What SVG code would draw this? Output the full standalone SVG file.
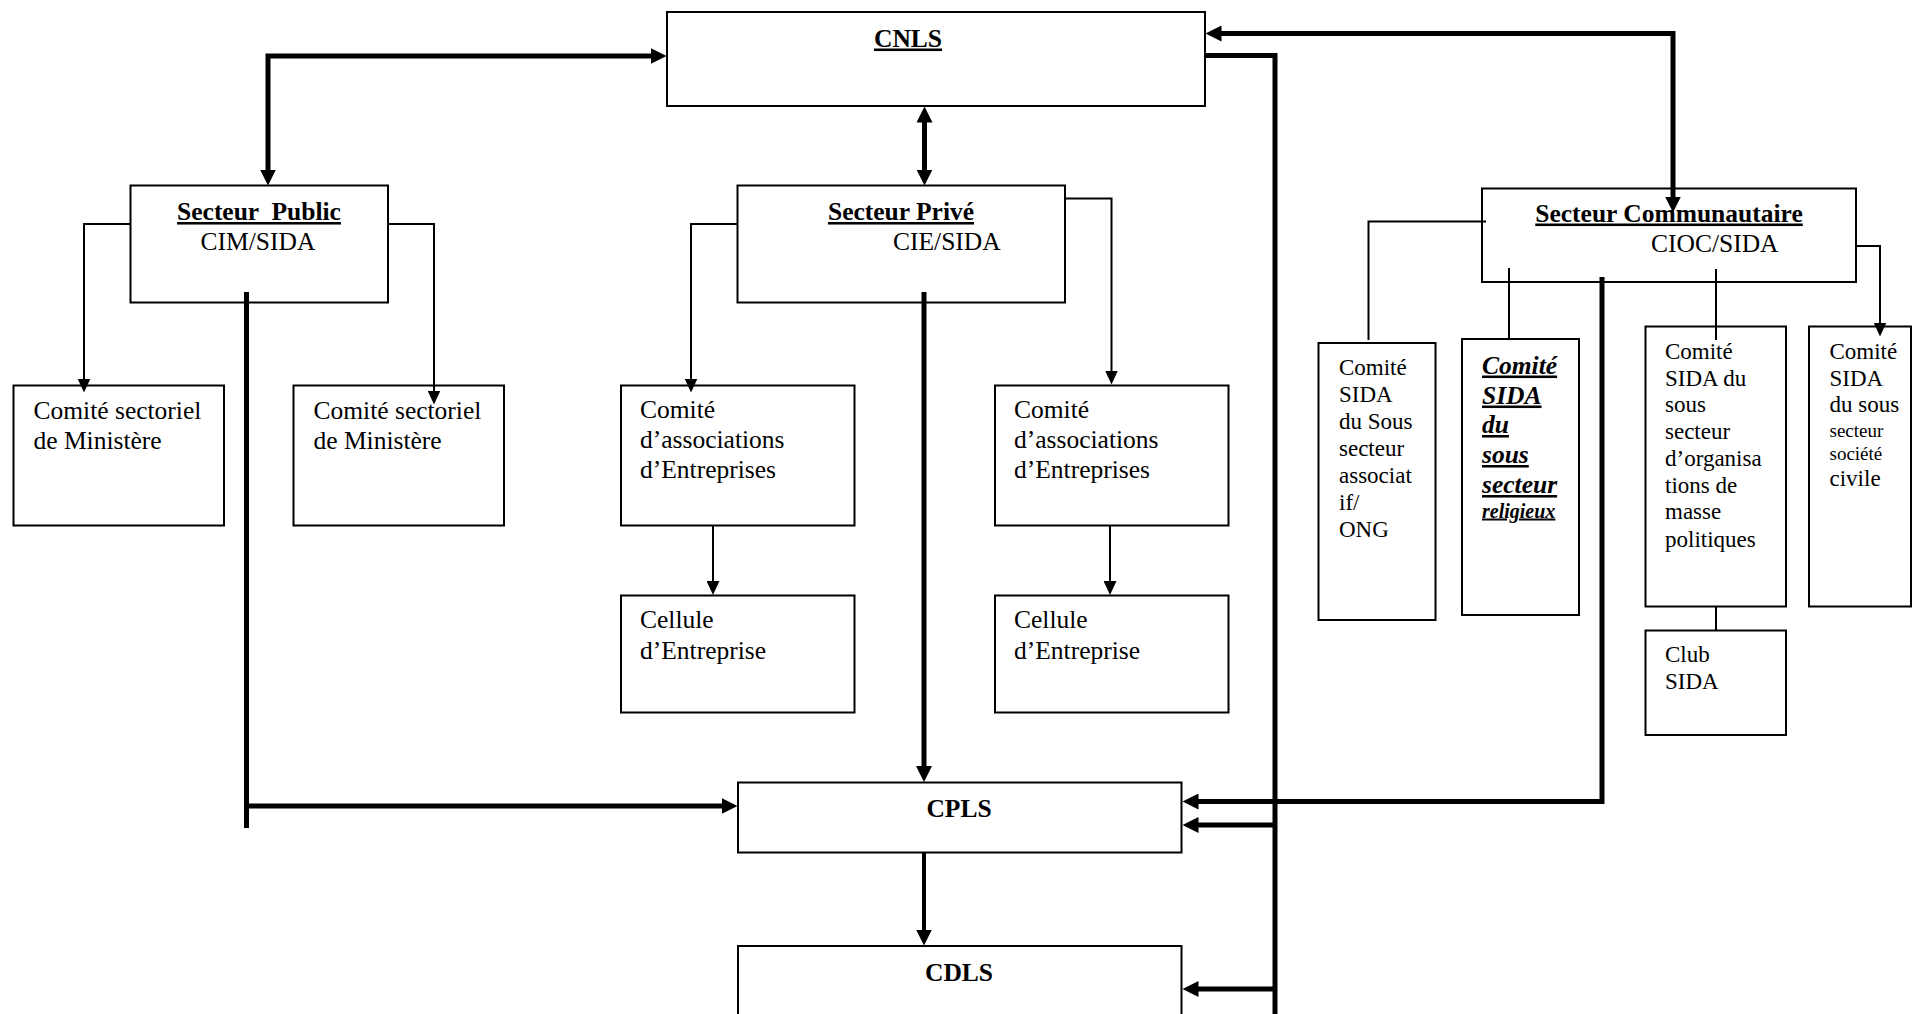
<svg xmlns="http://www.w3.org/2000/svg" width="1913" height="1014" viewBox="0 0 1913 1014">
<style>
  .box{fill:#fff;stroke:#000;stroke-width:2}
  text{font-family:"Liberation Serif","Times New Roman",serif;fill:#000}
  .t{font-size:25.5px}
  .h{font-size:25.5px;font-weight:bold}
  .u{text-decoration:underline}
  .s{font-size:23px}
  .ss{font-size:19px}
  .bi{font-size:25.5px;font-weight:bold;font-style:italic;text-decoration:underline}
  .thick{fill:none;stroke:#000;stroke-width:5;stroke-linejoin:miter}
  .med{fill:none;stroke:#000;stroke-width:4}
  .thin{fill:none;stroke:#000;stroke-width:2}
  .aT{marker-end:url(#ahT)}
  .aTs{marker-start:url(#ahT)}
  .at{marker-end:url(#aht)}
</style>
<defs>
  <marker id="ahT" markerUnits="userSpaceOnUse" viewBox="0 0 16 16" markerWidth="16" markerHeight="16" refX="0.5" refY="8" orient="auto-start-reverse">
    <path d="M0,0 L16,8 L0,16 z" fill="#000"/>
  </marker>
  <marker id="aht" markerUnits="userSpaceOnUse" viewBox="0 0 14 13" markerWidth="14" markerHeight="13" refX="0.5" refY="6.5" orient="auto-start-reverse">
    <path d="M0,0 L14,6.5 L0,13 z" fill="#000"/>
  </marker>
</defs>
<rect width="1913" height="1014" fill="#fff"/>

<g id="cnls">
  <rect class="box" x="667" y="12" width="538" height="94"/>
  <text class="h u" x="874" y="46.5">CNLS</text>
</g>
<g id="secteur-public">
  <rect class="box" x="130.5" y="185.5" width="257.5" height="117"/>
  <text class="h u" x="259" y="220" text-anchor="middle" xml:space="preserve">Secteur  Public</text>
  <text class="t" x="258" y="250" text-anchor="middle">CIM/SIDA</text>
</g>
<g id="secteur-prive">
  <rect class="box" x="737.5" y="185.5" width="327.5" height="117"/>
  <text class="h u" x="901" y="220" text-anchor="middle">Secteur Privé</text>
  <text class="t" x="893" y="250">CIE/SIDA</text>
</g>
<g id="secteur-communautaire">
  <rect class="box" x="1482" y="188.5" width="374" height="93.5"/>
  <text class="h u" x="1669" y="221.5" text-anchor="middle">Secteur Communautaire</text>
  <text class="t" x="1651" y="251.5">CIOC/SIDA</text>
</g>
<g id="comite-sectoriel-1">
  <rect class="box" x="13.5" y="385.5" width="210.5" height="140"/>
  <text class="t" x="33.5" y="419">Comité sectoriel</text>
  <text class="t" x="33.5" y="449">de Ministère</text>
</g>
<g id="comite-sectoriel-2">
  <rect class="box" x="293.5" y="385.5" width="210.5" height="140"/>
  <text class="t" x="313.5" y="419">Comité sectoriel</text>
  <text class="t" x="313.5" y="449">de Ministère</text>
</g>
<g id="comite-assoc-1">
  <rect class="box" x="621" y="385.5" width="233.5" height="140"/>
  <text class="t" x="640" y="418">Comité</text>
  <text class="t" x="640" y="448">d’associations</text>
  <text class="t" x="640" y="477.5">d’Entreprises</text>
</g>
<g id="comite-assoc-2">
  <rect class="box" x="995" y="385.5" width="233.5" height="140"/>
  <text class="t" x="1014" y="418">Comité</text>
  <text class="t" x="1014" y="448">d’associations</text>
  <text class="t" x="1014" y="477.5">d’Entreprises</text>
</g>
<g id="cellule-1">
  <rect class="box" x="621" y="595.5" width="233.5" height="117"/>
  <text class="t" x="640" y="628">Cellule</text>
  <text class="t" x="640" y="659">d’Entreprise</text>
</g>
<g id="cellule-2">
  <rect class="box" x="995" y="595.5" width="233.5" height="117"/>
  <text class="t" x="1014" y="628">Cellule</text>
  <text class="t" x="1014" y="659">d’Entreprise</text>
</g>
<g id="cpls">
  <rect class="box" x="738" y="782.5" width="443.5" height="70"/>
  <text class="h" x="959" y="817" text-anchor="middle">CPLS</text>
</g>
<g id="cdls">
  <rect class="box" x="738" y="946" width="443.5" height="80"/>
  <text class="h" x="959" y="981" text-anchor="middle">CDLS</text>
</g>
<g id="comite-associatif">
  <rect class="box" x="1318.5" y="343" width="117" height="277"/>
  <text class="s" x="1339" y="374.5">Comité</text>
  <text class="s" x="1339" y="401.5">SIDA</text>
  <text class="s" x="1339" y="428.5">du Sous</text>
  <text class="s" x="1339" y="455.5">secteur</text>
  <text class="s" x="1339" y="482.5">associat</text>
  <text class="s" x="1339" y="509.5">if/</text>
  <text class="s" x="1339" y="536.5">ONG</text>
</g>
<g id="comite-religieux">
  <rect class="box" x="1462" y="339" width="117" height="276"/>
  <text class="bi" x="1482" y="373.5">Comité</text>
  <text class="bi" x="1482" y="403.5">SIDA</text>
  <text class="bi" x="1482" y="433">du</text>
  <text class="bi" x="1482" y="463">sous</text>
  <text class="bi" x="1482" y="493">secteur</text>
  <text class="bi" x="1482" y="517.5" style="font-size:20px">religieux</text>
</g>
<g id="comite-masse">
  <rect class="box" x="1645.5" y="326.5" width="140.5" height="280"/>
  <text class="s" x="1665" y="358.5">Comité</text>
  <text class="s" x="1665" y="385.5">SIDA du</text>
  <text class="s" x="1665" y="412">sous</text>
  <text class="s" x="1665" y="439">secteur</text>
  <text class="s" x="1665" y="465.5">d’organisa</text>
  <text class="s" x="1665" y="492.5">tions de</text>
  <text class="s" x="1665" y="519">masse</text>
  <text class="s" x="1665" y="546.5">politiques</text>
</g>
<g id="comite-civile">
  <rect class="box" x="1809" y="326.5" width="102" height="280"/>
  <text class="s" x="1829.5" y="358.5">Comité</text>
  <text class="s" x="1829.5" y="385.5">SIDA</text>
  <text class="s" x="1829.5" y="412">du sous</text>
  <text class="ss" x="1829.5" y="437">secteur</text>
  <text class="ss" x="1829.5" y="460">société</text>
  <text class="s" x="1829.5" y="486">civile</text>
</g>
<g id="club-sida">
  <rect class="box" x="1645.5" y="630.5" width="140.5" height="104.5"/>
  <text class="s" x="1665" y="662">Club</text>
  <text class="s" x="1665" y="688.5">SIDA</text>
</g>

<g id="connectors">
  <!-- thick -->
  <path class="thick aT aTs" d="M651,56 H268 V170"/>
  <path class="thick aT aTs" d="M924.5,122 V170"/>
  <path class="thick aT aTs" d="M1221,33.5 H1673 V197"/>
  <path class="thick" d="M1205,55.5 H1275 V1014"/>
  <path class="thick aT" d="M1275,825 H1198"/>
  <path class="thick aT" d="M1275,989 H1198"/>
  <path class="thick aT" d="M1602,277 V801.5 H1198"/>
  <path class="thick" d="M246.5,292 V828"/>
  <path class="thick aT" d="M246.5,806 H722"/>
  <path class="thick aT" d="M924,292 V766.5"/>
  <path class="med aT" d="M924,852.5 V930"/>
  <!-- thin with arrows -->
  <path class="thin at" d="M130.5,224 H84 V379"/>
  <path class="thin at" d="M388,224 H434 V391"/>
  <path class="thin at" d="M737.5,224 H691 V379"/>
  <path class="thin at" d="M1065,198.5 H1111.5 V371"/>
  <path class="thin at" d="M713,526 V581.5"/>
  <path class="thin at" d="M1110,526 V581.5"/>
  <path class="thin at" d="M1856,246 H1880 V323"/>
  <!-- thin without arrows -->
  <path class="thin" d="M1486,221.5 H1368.5 V340"/>
  <path class="thin" d="M1509,268 V339"/>
  <path class="thin" d="M1716,269 V340"/>
  <path class="thin" d="M1716,606.5 V630.5"/>
</g>
</svg>
